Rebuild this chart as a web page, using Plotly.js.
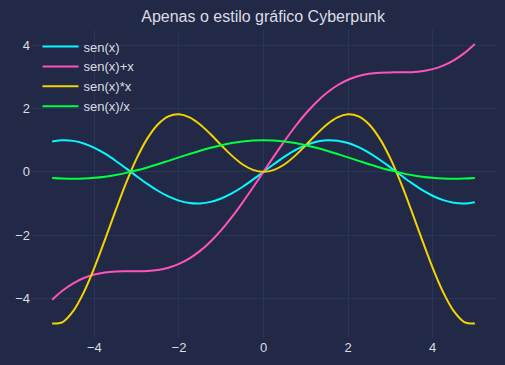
<!DOCTYPE html>
<html>
<head>
<meta charset="utf-8">
<script src="https://cdn.plot.ly/plotly-3.0.1.min.js"></script>
<style>html,body{margin:0;padding:0;background:#212946;}#chart{width:505px;height:365px;}</style>
</head>
<body>
<div id="chart"></div>
<script>
var xValores = [-5,-4.75,-4.5,-4.25,-4,-3.75,-3.5,-3.25,-3,-2.75,-2.5,-2.25,-2,-1.75,-1.5,-1.25,-1,-0.75,-0.5,-0.25,0,0.25,0.5,0.75,1,1.25,1.5,1.75,2,2.25,2.5,2.75,3,3.25,3.5,3.75,4,4.25,4.5,4.75,5];
var sen = [0.9589,0.9993,0.9775,0.8950,0.7568,0.5716,0.3508,0.1082,-0.1411,-0.3817,-0.5985,-0.7781,-0.9093,-0.9840,-0.9975,-0.9490,-0.8415,-0.6816,-0.4794,-0.2474,0,0.2474,0.4794,0.6816,0.8415,0.9490,0.9975,0.9840,0.9093,0.7781,0.5985,0.3817,0.1411,-0.1082,-0.3508,-0.5716,-0.7568,-0.8950,-0.9775,-0.9993,-0.9589];
var senMaisX = [-4.0411,-3.7507,-3.5225,-3.3550,-3.2432,-3.1784,-3.1492,-3.1418,-3.1411,-3.1317,-3.0985,-3.0281,-2.9093,-2.7340,-2.4975,-2.1990,-1.8415,-1.4316,-0.9794,-0.4974,0,0.4974,0.9794,1.4316,1.8415,2.1990,2.4975,2.7340,2.9093,3.0281,3.0985,3.1317,3.1411,3.1418,3.1492,3.1784,3.2432,3.3550,3.5225,3.7507,4.0411];
var senVezesX = [-4.7946,-4.7467,-4.3988,-3.8038,-3.0272,-2.1435,-1.2278,-0.3517,0.4233,1.0497,1.4963,1.7507,1.8186,1.7220,1.4963,1.1863,0.8415,0.5112,0.2397,0.0619,0,0.0619,0.2397,0.5112,0.8415,1.1863,1.4963,1.7220,1.8186,1.7507,1.4963,1.0497,0.4233,-0.3517,-1.2278,-2.1435,-3.0272,-3.8038,-4.3988,-4.7467,-4.7946];
var senDivX = [-0.1918,-0.2104,-0.2172,-0.2106,-0.1892,-0.1524,-0.1002,-0.0333,0.0470,0.1388,0.2394,0.3458,0.4546,0.5623,0.6650,0.7592,0.8415,0.9089,0.9589,0.9896,1,0.9896,0.9589,0.9089,0.8415,0.7592,0.6650,0.5623,0.4546,0.3458,0.2394,0.1388,0.0470,-0.0333,-0.1002,-0.1524,-0.1892,-0.2106,-0.2172,-0.2104,-0.1918];
var nomes = ['sen(x)','sen(x)+x','sen(x)*x','sen(x)/x'];
var cores = ['#08F7FE','#FE53BB','#F5D300','#00ff41'];
var series = [sen, senMaisX, senVezesX, senDivX];
var tickVals = [-4,-2,0,2,4];
var tickText = ['\u22124','\u22122','0','2','4'];

var traces = series.map(function(s,i){
  return {x:xValores, y:s, name:nomes[i], type:'scatter', mode:'lines',
    line:{color:cores[i], width:2, shape:'spline', smoothing:1}};
});
var axisBase = {showgrid:true, gridcolor:'#2A3459', gridwidth:1, zeroline:false, showline:false,
  ticks:'', tickfont:{family:'Liberation Sans, Arial, sans-serif', size:13, color:'#dcdce4'},
  tickvals:tickVals, ticktext:tickText};
var layout = {
  width:505, height:365,
  paper_bgcolor:'#212946', plot_bgcolor:'#212946',
  margin:{l:31, r:9, t:30, b:27},
  title:{text:'Apenas o estilo gráfico Cyberpunk', x:0.521, xanchor:'center', y:0.955, yanchor:'middle',
    font:{family:'Liberation Sans, Arial, sans-serif', size:16, color:'#dcdce4'}},
  xaxis:Object.assign({}, axisBase, {range:[-5.5,5.5]}),
  yaxis:Object.assign({}, axisBase, {range:[-5.25,4.48]}),
  showlegend:true,
  legend:{x:0.014, y:0.995, xanchor:'left', yanchor:'top', bgcolor:'rgba(0,0,0,0)',
    font:{family:'Liberation Sans, Arial, sans-serif', size:13, color:'#dcdce4'},
    tracegroupgap:0, itemwidth:36}
};
Plotly.newPlot('chart', traces, layout, {displayModeBar:false, staticPlot:true});
</script>
</body>
</html>
